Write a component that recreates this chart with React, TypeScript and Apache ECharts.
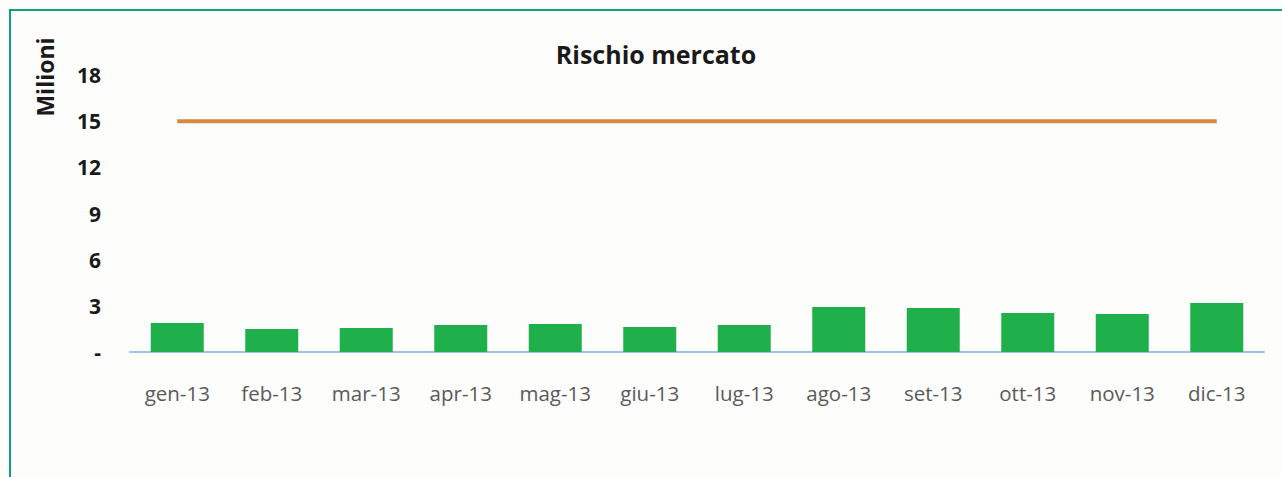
import React, { useEffect, useRef } from "react";
import * as echarts from "echarts";

const categories = ["gen-13", "feb-13", "mar-13", "apr-13", "mag-13", "giu-13", "lug-13", "ago-13", "set-13", "ott-13", "nov-13", "dic-13"];
const rischioValues = [1.88, 1.49, 1.56, 1.75, 1.82, 1.62, 1.75, 2.92, 2.86, 2.53, 2.47, 3.18];
const limiteValues = [15, 15, 15, 15, 15, 15, 15, 15, 15, 15, 15, 15];

export default function App() {
  const ref = useRef<HTMLDivElement>(null);
  useEffect(() => {
    if (!ref.current) return;
    const chart = echarts.init(ref.current, null, { renderer: "svg" });
    chart.setOption({
      animation: false,
      backgroundColor: "#fdfdfc",
      title: {
        text: "Rischio mercato",
        left: 651,
        top: 36,
        textAlign: "center",
        textStyle: { fontFamily: "Open Sans", fontSize: 25, fontWeight: "bold", color: "#1a1a1a" },
      },
      grid: { left: 130, right: 18, top: 75, bottom: 125 },
      xAxis: {
        type: "category",
        data: categories,
        axisLine: { lineStyle: { color: "#9dc3e6", width: 2 } },
        axisTick: { show: false },
        axisLabel: { color: "#5a5a5a", fontSize: 20.5, fontFamily: "Open Sans", margin: 30, interval: 0, hideOverlap: false },
      },
      yAxis: {
        type: "value",
        min: 0,
        max: 18,
        interval: 3,
        axisLine: { show: false },
        axisTick: { show: false },
        splitLine: { show: false },
        axisLabel: {
          color: "#1a1a1a",
          fontSize: 21,
          fontWeight: "bold",
          fontFamily: "Open Sans",
          margin: 29,
          formatter: (v: number) => (v === 0 ? "-" : String(v)),
        },
      },
      graphic: [
        {
          type: "text",
          x: 45,
          y: 77,
          rotation: Math.PI / 2,
          style: {
            text: "Milioni",
            fontFamily: "Open Sans",
            fontSize: 23,
            fontWeight: "bold",
            fill: "#1a1a1a",
            align: "center",
            verticalAlign: "middle",
          },
        },
      ],
      series: [
        {
          type: "bar",
          data: rischioValues,
          barWidth: 53,
          itemStyle: { color: "#1fb04b" },
        },
        {
          type: "line",
          data: limiteValues,
          symbol: "none",
          lineStyle: { color: "#d98844", width: 4 },
        },
      ],
    });
    return () => chart.dispose();
  }, []);
  return (
    <div style={{ position: "fixed", left: 0, top: 0, width: 1282, height: 477 }}>
      <div ref={ref} style={{ position: "absolute", left: 0, top: 0, width: 1282, height: 477 }} />
      <div
        style={{
          position: "absolute",
          left: 9,
          top: 9,
          width: 1300,
          height: 600,
          borderLeft: "2px solid #0f9f7a",
          borderTop: "2px solid #0f9f7a",
          pointerEvents: "none",
        }}
      />
    </div>
  );
}
